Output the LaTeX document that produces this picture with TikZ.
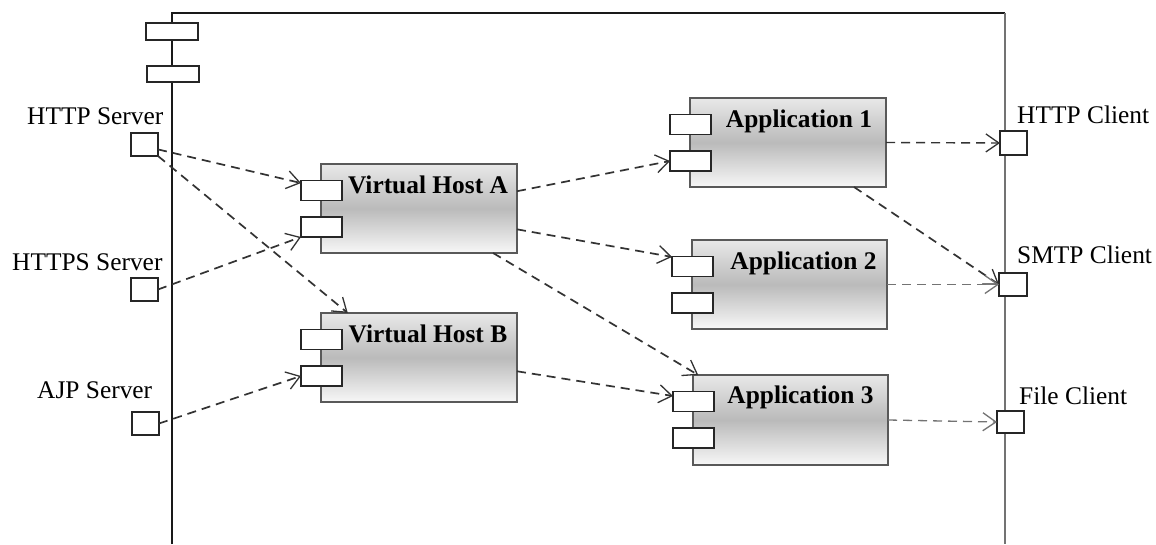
\documentclass[tikz,border=0pt]{standalone}
\usepackage{fontspec}
\setmainfont{Liberation Serif}
\usetikzlibrary{arrows.meta,calc}
\begin{document}
\begin{tikzpicture}[x=1pt,y=-1pt,
  comp/.style={draw=black!65, line width=1.2pt, minimum width=196pt, minimum height=89pt,
    inner sep=0pt, outer sep=0pt, top color=black!9, bottom color=black!3, middle color=black!27},
  subbox/.style={draw=black!85, fill=white, line width=1.2pt, minimum width=41pt, minimum height=20pt, inner sep=0pt, outer sep=0pt},
  portbox/.style={draw=black!85, fill=white, line width=1.2pt, minimum width=27pt, minimum height=23pt, inner sep=0pt, outer sep=0pt},
  framebox/.style={draw=black!85, fill=white, line width=1.2pt, minimum width=52pt, minimum height=17pt, inner sep=0pt, outer sep=0pt},
  lbl/.style={inner sep=0pt, anchor=base west, font=\fontsize{25.4}{30}\selectfont},
  blbl/.style={inner sep=0pt, anchor=base, font=\fontsize{25.4}{30}\selectfont\bfseries},
  tipv/.tip={Straight Barb[length=13pt,width=18pt,line width=1.3pt]},
  dep/.style={draw=black!80, line width=1.7pt, dash pattern=on 9pt off 6pt, -tipv},
  deplight/.style={draw=black!55, line width=1.3pt, dash pattern=on 9pt off 6pt, -tipv}
]
\useasboundingbox (0,0) rectangle (1156,544);
\fill[white] (0,0) rectangle (1156,544);

% frame
\coordinate (fbl) at (172,544);
\coordinate (ftl) at (172,13);
\coordinate (ftr) at (1005,13);
\coordinate (fbr) at (1005,544);
\draw[black!90, line width=1.5pt] (fbl) -- (ftl) -- (ftr);
\draw[black!55, line width=1.3pt] (ftr) -- (fbr);
\node[framebox] (fr1) at (172,31.5) {};
\node[framebox, minimum height=16pt] (fr2) at (173,74) {};

% left ports
\node[portbox] (hs) at (144.5,144.5) {};
\node[portbox] (hss) at (144.5,289.5) {};
\node[portbox] (ajp) at (145.5,423.5) {};
\node[lbl] (hsl) at (27,124) {HTTP Server};
\node[lbl] (hssl) at (12,270) {HTTPS Server};
\node[lbl] (ajpl) at (37,398) {AJP Server};

% right ports
\node[portbox, minimum height=24pt] (hc) at (1013.5,143) {};
\node[portbox, minimum width=28pt] (sc) at (1013,284.5) {};
\node[portbox, minimum height=22pt] (fc) at (1010.5,422) {};
\node[lbl] (hcl) at (1017,123) {HTTP Client};
\node[lbl] (scl) at (1017,263) {SMTP Client};
\node[lbl] (fcl) at (1019,404) {File Client};

% components
\node[comp] (vha) at (419,208.5) {};
\node[comp] (vhb) at (419,357.5) {};
\node[comp] (app1) at (788,142.5) {};
\node[comp, minimum width=195pt] (app2) at (789.5,284.5) {};
\node[comp, minimum width=195pt, minimum height=90pt] (app3) at (790.5,420) {};

\foreach \c in {vha,vhb,app1,app2,app3}{
  \node[subbox] (\c a) at ($(\c.north west)+(0.5,26.5)$) {};
  \node[subbox] (\c b) at ($(\c.north west)+(0.5,63)$) {};
}

\node[blbl] (vhal) at ($(vha.north)+(9,29.5)$) {Virtual Host A};
\node[blbl] (vhbl) at ($(vhb.north)+(9,29.5)$) {Virtual Host B};
\node[blbl] (app1l) at ($(app1.north)+(11,29.5)$) {Application 1};
\node[blbl] (app2l) at ($(app2.north)+(14,29)$) {Application 2};
\node[blbl] (app3l) at ($(app3.north)+(10,28.5)$) {Application 3};

% connectors
\draw[dep] (hs.-20) -- (vhaa.160);
\draw[dep] (hs.south east) -- (vhb.148);
\draw[dep] (hss.east) -- (vhab.south west);
\draw[dep] (ajp.east) -- (vhbb.west);
\draw[dep] (vha.10) -- (app1b.west);
\draw[dep] (vha.-12) -- (app2a.155);
\draw[dep] (vha.-31) -- (app3.154);
\draw[dep] (vhb.-8) -- (app3a.165);
\draw[dep, line width=1.4pt] (app1.east) -- (hc.west);
\draw[dep] (app1.-34) -- (sc.west);
\draw[deplight] (app2.east) -- (sc.west);
\draw[deplight] (app3.east) -- (fc.west);
\end{tikzpicture}
\end{document}
